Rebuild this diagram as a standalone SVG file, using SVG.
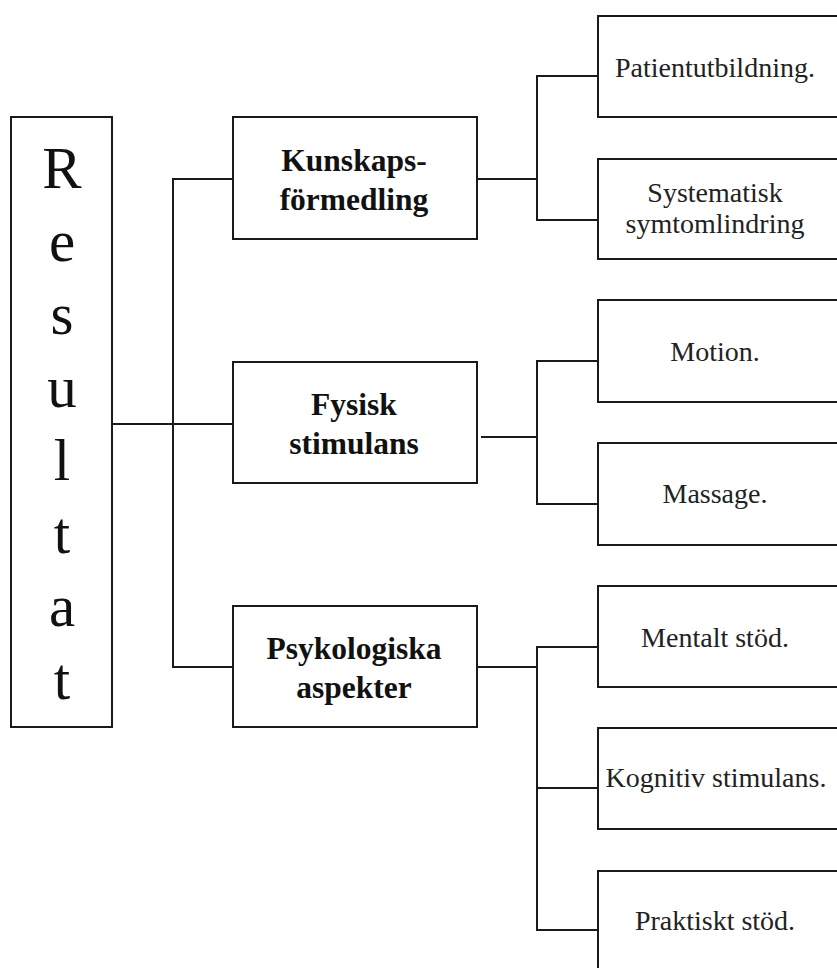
<svg xmlns="http://www.w3.org/2000/svg" width="837" height="968" viewBox="0 0 837 968">
<style>
.box{fill:#fff;stroke:#1a1a1a;stroke-width:2}
.ln{fill:none;stroke:#1a1a1a;stroke-width:2}
text{font-family:'Liberation Serif','DejaVu Serif',serif;text-anchor:middle}
.big{font-size:59px;fill:#111}
.mid{font-size:31.5px;font-weight:bold;fill:#111}
.sm{font-size:28px;fill:#222}
</style>
<rect width="837" height="968" fill="#fff"/>
<g id="connectors">
<path class="ln" d="M112,424 H233"/>
<path class="ln" d="M233,179 H173 V667 H233"/>
<path class="ln" d="M477,179 H537"/>
<path class="ln" d="M598,76 H537 V220 H598"/>
<path class="ln" d="M481,437 H537"/>
<path class="ln" d="M598,361 H537 V504 H598"/>
<path class="ln" d="M477,667 H537"/>
<path class="ln" d="M598,647 H537 V930 H598"/>
<path class="ln" d="M537,788 H598"/>
</g>
<g id="resultat">
<rect class="box" x="11" y="117" width="101" height="610"/>
<text class="big" x="62" y="188">R</text>
<text class="big" x="62" y="261">e</text>
<text class="big" x="62" y="334">s</text>
<text class="big" x="62" y="407">u</text>
<text class="big" x="62" y="480">l</text>
<text class="big" x="62" y="553">t</text>
<text class="big" x="62" y="626">a</text>
<text class="big" x="62" y="699">t</text>
</g>
<g id="kunskap">
<rect class="box" x="233" y="117" width="244" height="122"/>
<text class="mid" x="354" y="171">Kunskaps-</text>
<text class="mid" x="354" y="210">förmedling</text>
</g>
<g id="fysisk">
<rect class="box" x="233" y="362" width="244" height="121"/>
<text class="mid" x="354" y="415">Fysisk</text>
<text class="mid" x="354" y="454">stimulans</text>
</g>
<g id="psyk">
<rect class="box" x="233" y="606" width="244" height="121"/>
<text class="mid" x="354" y="659">Psykologiska</text>
<text class="mid" x="354" y="698">aspekter</text>
</g>
<g id="patient">
<rect class="box" x="598" y="16" width="260" height="101"/>
<text class="sm" x="715" y="77">Patientutbildning.</text>
</g>
<g id="symtom">
<rect class="box" x="598" y="159" width="260" height="100"/>
<text class="sm" x="715" y="202">Systematisk</text>
<text class="sm" x="715" y="233">symtomlindring</text>
</g>
<g id="motion">
<rect class="box" x="598" y="300" width="260" height="102"/>
<text class="sm" x="715" y="361">Motion.</text>
</g>
<g id="massage">
<rect class="box" x="598" y="443" width="260" height="102"/>
<text class="sm" x="715" y="503">Massage.</text>
</g>
<g id="mentalt">
<rect class="box" x="598" y="586" width="260" height="101"/>
<text class="sm" x="715" y="647">Mentalt stöd.</text>
</g>
<g id="kognitiv">
<rect class="box" x="598" y="728" width="260" height="101"/>
<text class="sm" x="716" y="787">Kognitiv stimulans.</text>
</g>
<g id="praktiskt">
<rect class="box" x="598" y="871" width="260" height="120"/>
<text class="sm" x="715" y="930">Praktiskt stöd.</text>
</g>
</svg>
